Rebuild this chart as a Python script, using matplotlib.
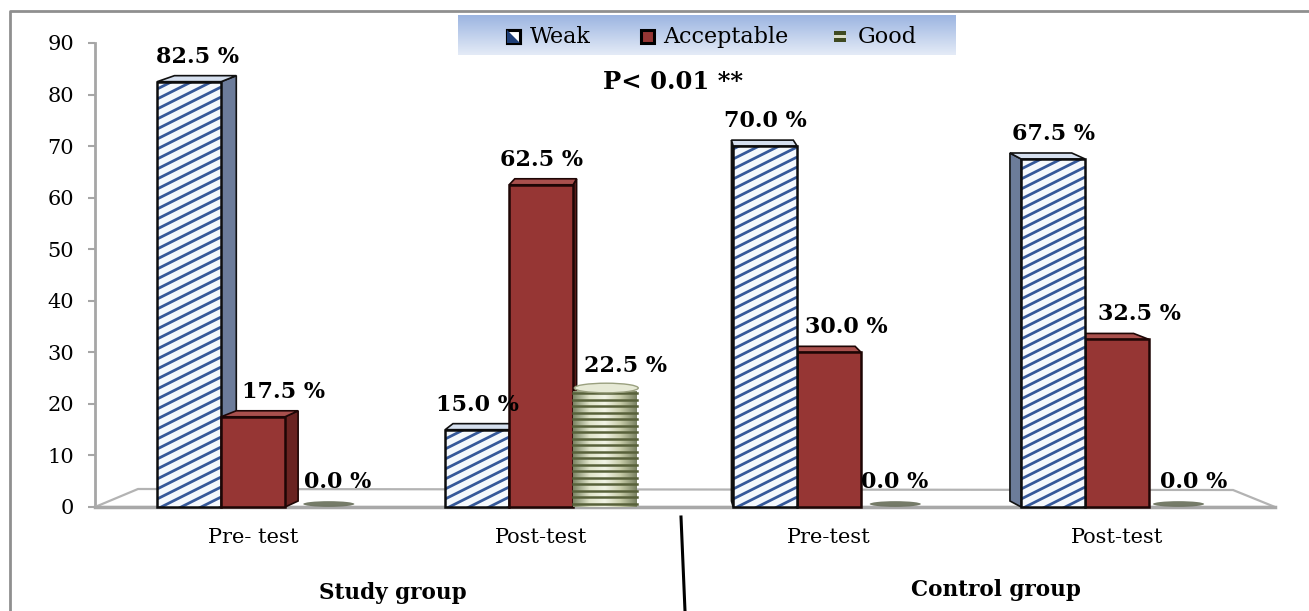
import numpy as np
import matplotlib.pyplot as plt
from matplotlib.patches import Polygon, Rectangle, Ellipse
from matplotlib.lines import Line2D
from matplotlib.colors import LinearSegmentedColormap

plt.rcParams['font.family'] = ['DejaVu Serif']

# data
groups = ['Pre- test', 'Post-test', 'Pre-test', 'Post-test']
series = ['Weak', 'Acceptable', 'Good']
weak = [82.5, 15.0, 70.0, 67.5]
acceptable = [17.5, 62.5, 30.0, 32.5]
good = [0.0, 22.5, 0.0, 0.0]
group_names = ['Study group', 'Control group']
p_text = 'P< 0.01 **'

# label nudges (px) for weak / acceptable / good in each group
label_dx = [[8, 30, 21], [0, 0, 20], [0, 17, 2], [0, 22, 13]]

W, H = 1309, 611
fig = plt.figure(figsize=(W / 100, H / 100), dpi=100)


def fx(px):
    return px / W


def fy(py):
    return 1 - py / H


# plot area: y=0 at 507 px, y=90 at 43 px, x from 95 to 1275 px
ax = fig.add_axes([fx(95), fy(507), (1275 - 95) / W, (507 - 43) / H])
Px = 288.0
Py = (507 - 43) / 90.0
x_left = -0.549
ax.set_xlim(x_left, x_left + 1180 / Px)
ax.set_ylim(0, 90)

bw = 0.222
xc = x_left + (680 - 95) / Px   # vanishing x
k = 0.033
dz = 6 / Py

weak_face = '#f5f9fd'
weak_line = '#36599a'
red = '#963634'
red_side = '#6a2321'
red_top = '#a9504d'

zc = [3]


def nz():
    zc[0] += 1
    return zc[0]


def shift(x):
    return k * (xc - x)


def box_sides(x0, x1, h, side_col, top_col, edge):
    s0, s1 = shift(x0), shift(x1)
    if s1 > 0:
        side = [(x1, 0), (x1, h), (x1 + s1, h + dz), (x1 + s1, dz)]
    else:
        side = [(x0, 0), (x0, h), (x0 + s0, h + dz), (x0 + s0, dz)]
    ax.add_patch(Polygon(side, closed=True, facecolor=side_col, edgecolor=edge,
                         lw=1.2, zorder=nz(), clip_on=False))
    top = [(x0, h), (x1, h), (x1 + s1, h + dz), (x0 + s0, h + dz)]
    ax.add_patch(Polygon(top, closed=True, facecolor=top_col, edgecolor=edge,
                         lw=1.2, zorder=nz(), clip_on=False))


def weak_bar(x0, x1, h):
    box_sides(x0, x1, h, '#6c7c9a', '#d6e0ef', '#111111')
    z = nz()
    rect = Rectangle((x0, 0), x1 - x0, h, facecolor=weak_face, edgecolor='none',
                     zorder=z, clip_on=False)
    ax.add_patch(rect)
    slope = 0.5 * Px / Py
    step = 10 / Py
    run = x1 - x0
    for c in np.arange(-slope * run - step, h + step, step):
        ln = Line2D([x0, x1], [c, c + slope * run], color=weak_line, lw=2.0,
                    zorder=z + 0.1, solid_capstyle='butt')
        ax.add_line(ln)
        ln.set_clip_path(rect)
    ax.add_patch(Rectangle((x0, 0), x1 - x0, h, facecolor='none',
                           edgecolor='#0d0d0d', lw=1.8, zorder=z + 0.2, clip_on=False))


def red_bar(x0, x1, h):
    box_sides(x0, x1, h, red_side, red_top, '#1e0605')
    ax.add_patch(Rectangle((x0, 0), x1 - x0, h, facecolor=red, edgecolor='#1e0605',
                           lw=1.8, zorder=nz(), clip_on=False))


cyl_cmap = LinearSegmentedColormap.from_list(
    'cyl', ['#7e8766', '#dfe3c9', '#f2f4e6', '#c7cca9', '#7a8262'])


def good_bar(x0, x1, h):
    xm = (x0 + x1) / 2 + shift((x0 + x1) / 2) / 2
    if h <= 0:
        ax.add_patch(Ellipse((xm + 0.02, dz / 2), (x1 - x0) * 0.8, 1.1,
                             facecolor='#666d58', edgecolor='none', alpha=0.9,
                             zorder=nz(), clip_on=False))
        return
    z = nz()
    rect = Rectangle((x0, 0), x1 - x0, h, facecolor='none', edgecolor='none',
                     zorder=z, clip_on=False)
    ax.add_patch(rect)
    grad = np.linspace(0, 1, 64).reshape(1, -1)
    im = ax.imshow(grad, cmap=cyl_cmap, extent=(x0, x1, 0, h), aspect='auto',
                   zorder=z, interpolation='bilinear')
    im.set_clip_path(rect)
    step = 6.5 / Py
    for yy in np.arange(step / 2, h, step):
        ax.add_line(Line2D([x0, x1], [yy, yy], color='#58613a', lw=1.8,
                           zorder=z + 0.1))
    ax.add_patch(Ellipse((xm, h + dz / 2), x1 - x0, dz * 1.6, facecolor='#e6e9d5',
                         edgecolor='#9aa07f', lw=1, zorder=z + 0.2, clip_on=False))


# floor
floor = [(x_left, 0), (x_left + 1180 / Px, 0),
         (x_left + 1138 / Px, 17 / Py), (x_left + 43 / Px, 18 / Py)]
ax.add_patch(Polygon(floor, closed=True, facecolor='white', edgecolor='#b3b3b3',
                     lw=1.6, zorder=1, clip_on=False))
ax.plot([x_left, x_left + 1180 / Px], [0, 0], color='#a8a8a8', lw=2.5,
        zorder=2, clip_on=False)

# bars, drawn from the outside towards the vanishing point
bars = []
for i in range(len(groups)):
    vals = [weak[i], acceptable[i], good[i]]
    for j, v in enumerate(vals):
        x0 = i + (j - 1.5) * bw
        bars.append((abs(xc - (x0 + bw / 2)), j, x0, v, i))
bars.sort(key=lambda b: -b[0])
for _, j, x0, v, i in bars:
    x1 = x0 + bw
    if j == 0:
        weak_bar(x0, x1, v)
    elif j == 1:
        red_bar(x0, x1, v)
    else:
        good_bar(x0, x1, v)

# value labels
for i in range(len(groups)):
    vals = [weak[i], acceptable[i], good[i]]
    for j, v in enumerate(vals):
        xm = i + (j - 1) * bw
        ax.annotate(f'{v:.1f} %', xy=(xm, v), xytext=(label_dx[i][j] * 0.72, 18),
                    textcoords='offset points', ha='center', va='center',
                    fontsize=16, fontweight='bold', zorder=50, annotation_clip=False)

# axes styling
for s in ['top', 'right', 'bottom']:
    ax.spines[s].set_visible(False)
ax.spines['left'].set_color('#a6a6a6')
ax.spines['left'].set_linewidth(2)
ax.spines['left'].set_zorder(0.5)
ax.set_yticks(range(0, 91, 10))
ax.tick_params(axis='y', direction='out', length=5, width=1.5, color='#a6a6a6',
               labelsize=15, pad=10)
ax.set_xticks(range(len(groups)))
ax.set_xticklabels(groups)
ax.tick_params(axis='x', length=0, labelsize=15, pad=15)
ax.patch.set_visible(False)

# legend strip
lax = fig.add_axes([fx(458), fy(55), (955 - 458) / W, 40 / H])
lg = np.linspace(0, 1, 50).reshape(-1, 1)
lax.imshow(lg, cmap=LinearSegmentedColormap.from_list('lg', ['#9cb5e1', '#e4ebf7']),
           aspect='auto', extent=(0, 1, 0, 1))
lax.set_xlim(0, 1)
lax.set_ylim(0, 1)
lax.axis('off')


def legend_square(px, fc, edge='#000000'):
    return Rectangle((fx(px), fy(43)), 13 / W, 13 / H, transform=fig.transFigure,
                     facecolor=fc, edgecolor=edge, lw=2.2, zorder=10)


fig.patches.append(legend_square(507, 'white'))
fig.patches.append(Polygon([(fx(507), fy(43)), (fx(520), fy(43)), (fx(507), fy(30))],
                           closed=True, transform=fig.transFigure,
                           facecolor='#1f3f78', edgecolor='none', zorder=11))
fig.patches.append(legend_square(507, 'none'))
fig.patches.append(legend_square(641, red))
fig.patches.append(Rectangle((fx(834), fy(42)), 12 / W, 11 / H, transform=fig.transFigure,
                             facecolor='#3f4a22', edgecolor='none', zorder=10))
fig.patches.append(Rectangle((fx(834), fy(38)), 12 / W, 3 / H, transform=fig.transFigure,
                             facecolor='#d9dcc8', edgecolor='none', zorder=11))
for px, name in zip([530, 663, 858], series):
    fig.text(fx(px), fy(37), name, ha='left', va='center', fontsize=16)

fig.text(fx(673), fy(82), p_text, ha='center', va='center', fontsize=17.5,
         fontweight='bold')
fig.text(fx(393), fy(593), group_names[0], ha='center', va='center', fontsize=15.5,
         fontweight='bold')
fig.text(fx(996), fy(590), group_names[1], ha='center', va='center', fontsize=15.5,
         fontweight='bold')

# divider between the two groups
fig.lines.append(Line2D([fx(681), fx(685)], [fy(517), fy(611)], color='black',
                        lw=2.2, transform=fig.transFigure))

# outer frame
fig.lines.append(Line2D([fx(10), fx(10), 1], [0, fy(11), fy(11)], color='#8f8f8f',
                        lw=2, transform=fig.transFigure))

fig.savefig('out.png', dpi=100)
